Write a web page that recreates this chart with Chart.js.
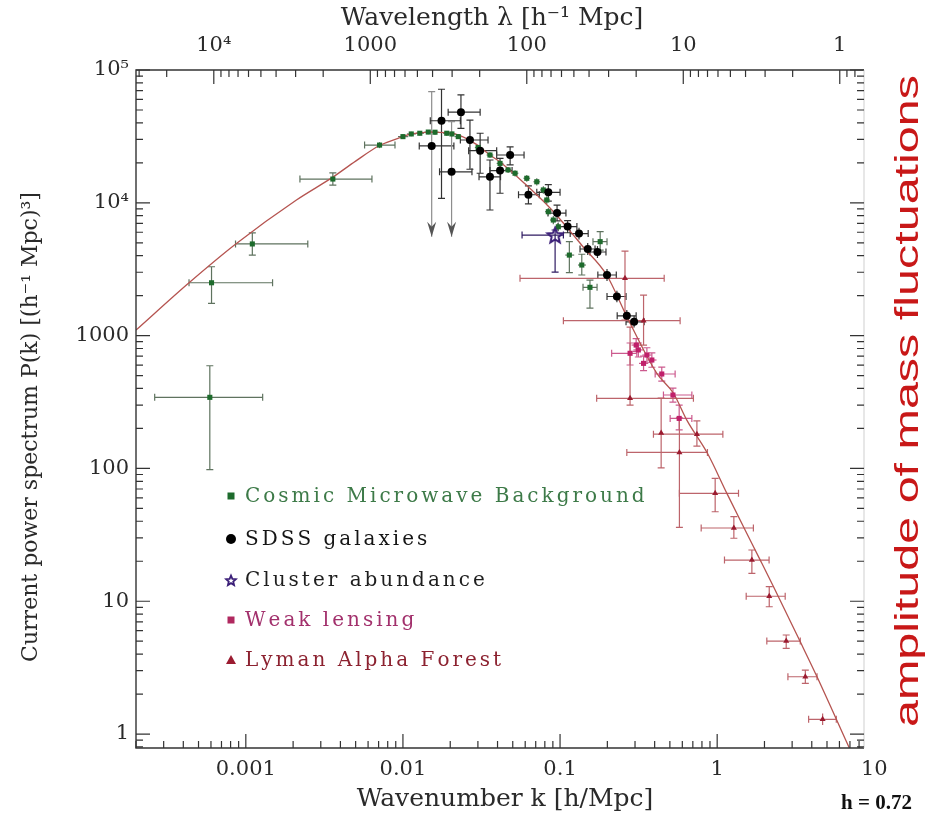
<!DOCTYPE html>
<html>
<head>
<meta charset="utf-8">
<script src="https://cdn.jsdelivr.net/npm/chart.js@4.4.1/dist/chart.umd.min.js"></script>
<style>
  html, body { margin: 0; padding: 0; background: #fff; }
  #wrap { position: relative; width: 932px; height: 818px; }
</style>
</head>
<body>
<div id="wrap"><canvas id="pk"></canvas></div>
<script>
// values: k in h/Mpc, P(k) in (h^-1 Mpc)^3
const kMin = 2.0e-4, kMax = 8.6, pMin = 0.785, pMax = 1e5;
const kTicks = [0.001, 0.01, 0.1, 1, 10];
const kTickLabels = ['0.001', '0.01', '0.1', '1', '10'];
const lambdaTicks = [1, 10, 100, 1000, 10000];
const lambdaTickLabels = ['1', '10', '100', '1000', '10\u2074'];
const pTicks = [1, 10, 100, 1000, 10000, 100000];
const pTickLabels = ['1', '10', '100', '1000', '10\u2074', '10\u2075'];

// theory curve
const curveK = [2.0e-4, 4.35e-4, 8.63e-4, 2.10e-3, 3.58e-3, 5.0e-3, 7.1e-3, 0.0100, 0.0113, 0.0153, 0.0214, 0.0288, 0.0358, 0.0415, 0.0598, 0.0863, 0.1076, 0.140, 0.198, 0.266, 0.413, 0.527, 0.641, 0.867, 1.153, 1.47, 1.88, 2.28, 3.38, 4.32, 5.64, 7.03];
const curveP = [1100, 2500, 4900, 10500, 15600, 20600, 27000, 31500, 33000, 34100, 33000, 27900, 22900, 20300, 13900, 9140, 6800, 4670, 2860, 1390, 520, 368, 231, 130, 64.9, 36.4, 20.4, 12.9, 4.95, 2.70, 1.35, 0.758];

// Cosmic Microwave Background
const cmbK   = [5.9e-4, 6.05e-4, 1.10e-3, 3.58e-3, 7.1e-3, 0.0100, 0.0113, 0.0128, 0.0145, 0.0160, 0.0190, 0.0205, 0.0225, 0.0267, 0.0301, 0.0358, 0.0415, 0.0467, 0.0517, 0.0614, 0.0711, 0.0783, 0.0823, 0.0842, 0.0906, 0.0975, 0.1146, 0.1375, 0.155, 0.180];
const cmbP   = [343, 2500, 4900, 15100, 27200, 31500, 33000, 33400, 34100, 34000, 33400, 33000, 31500, 29700, 26100, 22900, 19800, 17700, 16700, 15300, 14400, 12500, 10500, 8570, 7420, 6600, 4040, 3400, 2310, 5100];
const cmbKlo = [2.63e-4, 4.35e-4, 8.6e-4, 2.21e-3, 5.7e-3, 0.0093, 0.0106, 0.0121, 0.0137, 0.0152, 0.0180, 0.0195, 0.0213, 0.0254, 0.0287, 0.0341, 0.0395, 0.0445, 0.0492, 0.0585, 0.0677, 0.0746, 0.0784, 0.0802, 0.0863, 0.0929, 0.108, 0.130, 0.140, 0.162];
const cmbKhi = [1.28e-3, 1.48e-3, 2.48e-3, 6.35e-3, 8.9e-3, 0.0108, 0.0121, 0.0136, 0.0153, 0.0169, 0.0200, 0.0216, 0.0237, 0.0281, 0.0316, 0.0376, 0.0436, 0.0490, 0.0543, 0.0645, 0.0747, 0.0822, 0.0864, 0.0884, 0.0951, 0.102, 0.123, 0.146, 0.172, 0.199];
const cmbPlo = [98, 1750, 4040, 13600, 25800, 30200, 31700, 32100, 32800, 32600, 32000, 31600, 30200, 28400, 24900, 21800, 18800, 16800, 15800, 14400, 13500, 11700, 9800, 8000, 6900, 6100, 2980, 2860, 1610, 4410];
const cmbPhi = [593, 3300, 5930, 16800, 28600, 32800, 34300, 34800, 35400, 35400, 34800, 34400, 32800, 31000, 27300, 24000, 20800, 18600, 17600, 16200, 15300, 13300, 11200, 9150, 7950, 7100, 5100, 4100, 2620, 6060];

// SDSS galaxies (first and fourth are upper limits drawn as arrows)
const sdssK   = [0.01524, 0.0176, 0.0234, 0.0204, 0.0267, 0.0310, 0.0358, 0.0415, 0.0481, 0.0629, 0.0842, 0.0957, 0.1117, 0.132, 0.150, 0.173, 0.199, 0.230, 0.266, 0.296];
const sdssP   = [26800, 41500, 48100, 17100, 29700, 24700, 15700, 17500, 22900, 11500, 12000, 8370, 6620, 5870, 4490, 4260, 2860, 1970, 1410, 1270];
const sdssKlo = [0.0127, 0.01493, 0.0194, 0.0171, 0.0232, 0.0262, 0.0305, 0.0358, 0.0395, 0.0544, 0.0711, 0.0838, 0.0971, 0.116, 0.134, 0.155, 0.174, 0.199, 0.231, 0.263];
const sdssKhi = [0.0211, 0.0232, 0.0310, 0.0275, 0.0348, 0.0395, 0.0418, 0.0495, 0.0590, 0.0738, 0.100, 0.109, 0.128, 0.151, 0.167, 0.196, 0.228, 0.263, 0.305, 0.343];
const sdssPlo = [5560, 10800, 36400, 5560, 17900, 16700, 8830, 11800, 19300, 9800, 10300, 7300, 5950, 5300, 4050, 3840, 2580, 1780, 1270, 1150];
const sdssPhi = [68700, 71600, 64900, 40800, 42000, 33400, 21000, 21600, 26400, 13400, 13700, 9600, 7350, 6500, 4980, 4720, 3170, 2180, 1560, 1410];
const sdssArrow = [true, false, false, true, false, false, false, false, false, false, false, false, false, false, false, false, false, false, false, false];

// Cluster abundance
const clusterK = [0.093], clusterP = [5720];
const clusterKlo = [0.0573], clusterKhi = [0.105];
const clusterPlo = [3010], clusterPhi = [6240];

// Weak lensing
const wlK   = [0.279, 0.305, 0.315, 0.340, 0.357, 0.384, 0.444, 0.523, 0.573];
const wlP   = [736, 849, 780, 618, 714, 655, 514, 357, 238];
const wlKlo = [0.213, 0.285, 0.293, 0.318, 0.334, 0.359, 0.403, 0.455, 0.502];
const wlKhi = [0.308, 0.326, 0.338, 0.364, 0.382, 0.411, 0.540, 0.690, 0.690];
const wlPlo = [601, 760, 690, 545, 630, 578, 455, 316, 195];
const wlPhi = [880, 950, 880, 700, 810, 742, 580, 403, 300];

// Lyman alpha forest
const lyaK   = [0.259, 0.340, 0.279, 0.440, 0.743, 0.575, 0.971, 1.277, 1.663, 2.145, 2.75, 3.64, 4.69];
const lyaP   = [2700, 1295, 337, 185, 181, 132, 64.9, 35.6, 20.4, 10.9, 5.01, 2.70, 1.29];
const lyaKlo = [0.0556, 0.105, 0.171, 0.440, 0.393, 0.266, 0.575, 0.791, 1.113, 1.53, 2.07, 2.82, 3.82];
const lyaKhi = [0.460, 0.581, 0.706, 0.440, 1.087, 0.867, 1.367, 1.70, 2.14, 2.71, 3.38, 4.32, 5.73];
const lyaPlo = [1310, 849, 300, 101, 147, 36, 47.2, 29.8, 16.2, 9.09, 4.42, 2.41, 1.17];
const lyaPhi = [4330, 2020, 1160, 339, 228, 240, 84.2, 43.3, 24.3, 12.9, 5.57, 3.03, 1.43];

const serif = "'DejaVu Serif', serif";
const textCol = '#2a2a2a';

function pts(ks, ps) { return ks.map((k, i) => ({ x: k, y: ps[i] })); }

function starMarker(size, color, lw) {
  const c = document.createElement('canvas');
  c.width = c.height = size;
  const g = c.getContext('2d');
  const r = size / 2 - lw, ri = r * 0.45, cx = size / 2, cy = size / 2 + 0.8;
  g.beginPath();
  for (let i = 0; i < 10; i++) {
    const a = -Math.PI / 2 + i * Math.PI / 5;
    const rr = i % 2 ? ri : r;
    g.lineTo(cx + rr * Math.cos(a), cy + rr * Math.sin(a));
  }
  g.closePath();
  g.strokeStyle = color;
  g.lineWidth = lw;
  g.stroke();
  return c;
}
const starBig = starMarker(20, '#3b1f78', 2);
const starSmall = starMarker(14, '#3b1f78', 1.8);

// error bars (and the two downward arrows) under the markers
const errorBars = {
  id: 'errorBars',
  beforeDatasetsDraw(chart) {
    const { ctx, chartArea: a, scales: { x, y } } = chart;
    ctx.save();
    ctx.beginPath();
    ctx.rect(a.left, a.top, a.right - a.left, a.bottom - a.top);
    ctx.clip();
    ctx.lineWidth = 1.2;
    const cap = 3.5;
    chart.data.datasets.forEach(ds => {
      const e = ds.errors;
      if (!e) return;
      ds.data.forEach((p, i) => {
        const px = x.getPixelForValue(p.x), py = y.getPixelForValue(p.y);
        const xl = x.getPixelForValue(e.kLo[i]), xh = x.getPixelForValue(e.kHi[i]);
        const yl = y.getPixelForValue(e.pLo[i]), yh = y.getPixelForValue(e.pHi[i]);
        const arrow = e.arrow && e.arrow[i];
        ctx.strokeStyle = e.color;
        ctx.beginPath();
        if (xh - xl > 1) {
          ctx.moveTo(xl, py); ctx.lineTo(xh, py);
          if (xh - xl > 12) {
            ctx.moveTo(xl, py - cap); ctx.lineTo(xl, py + cap);
            ctx.moveTo(xh, py - cap); ctx.lineTo(xh, py + cap);
          }
        }
        ctx.stroke();
        ctx.strokeStyle = arrow ? '#8d8d8d' : e.color;
        ctx.beginPath();
        ctx.moveTo(px, yh); ctx.lineTo(px, yl);
        if (yl - yh > 12) {
          ctx.moveTo(px - cap, yh); ctx.lineTo(px + cap, yh);
          if (!arrow) { ctx.moveTo(px - cap, yl); ctx.lineTo(px + cap, yl); }
        }
        ctx.stroke();
        if (arrow) {
          ctx.fillStyle = '#555';
          ctx.beginPath();
          ctx.moveTo(px, yl);
          ctx.lineTo(px - 4.5, yl - 15);
          ctx.lineTo(px, yl - 10);
          ctx.lineTo(px + 4.5, yl - 15);
          ctx.closePath();
          ctx.fill();
        }
      });
    });
    ctx.restore();
  }
};

function logTicks(min, max) {
  const out = [];
  for (let e = Math.floor(Math.log10(min)); e <= Math.ceil(Math.log10(max)); e++) {
    for (let m = 1; m <= 9; m++) {
      const v = m * Math.pow(10, e);
      if (v >= min * 0.999 && v <= max * 1.001) out.push([v, m === 1]);
    }
  }
  return out;
}

function spaced(ctx, str, x, y, gap) {
  for (const ch of str) {
    ctx.fillText(ch, x, y);
    x += ctx.measureText(ch).width + gap;
  }
}

const legendRows = [
  { label: 'Cosmic Microwave Background', color: '#3d7a48', y: 496, mark: 'rect', mc: '#1d6b2c' },
  { label: 'SDSS galaxies', color: '#151515', y: 539, mark: 'circle', mc: '#000' },
  { label: 'Cluster abundance', color: '#1e1e1e', y: 580, mark: 'star', mc: '#3b1f78' },
  { label: 'Weak lensing', color: '#a2306c', y: 620, mark: 'rect', mc: '#b0285f' },
  { label: 'Lyman Alpha Forest', color: '#8c2230', y: 660, mark: 'triangle', mc: '#9b1b30' }
];

// frame, inward tick marks, titles, legend and side notes
const decor = {
  id: 'decor',
  afterDraw(chart) {
    const { ctx, chartArea: a, scales: { x, x2, y } } = chart;
    ctx.save();
    ctx.strokeStyle = '#333';
    ctx.lineWidth = 1.4;
    ctx.beginPath();
    ctx.moveTo(a.right, a.top); ctx.lineTo(a.left, a.top);
    ctx.lineTo(a.left, a.bottom); ctx.lineTo(a.right, a.bottom);
    ctx.stroke();
    ctx.strokeStyle = '#cfcfcf';
    ctx.lineWidth = 1;
    ctx.beginPath(); ctx.moveTo(a.right, a.top); ctx.lineTo(a.right, a.bottom); ctx.stroke();

    ctx.strokeStyle = '#333';
    ctx.lineWidth = 1.2;
    ctx.beginPath();
    logTicks(kMin, kMax).forEach(([v, major]) => {
      const px = x.getPixelForValue(v), len = major ? 14 : 7;
      ctx.moveTo(px, a.bottom); ctx.lineTo(px, a.bottom - len);
    });
    logTicks(2 * Math.PI / kMax, 2 * Math.PI / kMin).forEach(([v, major]) => {
      const px = x2.getPixelForValue(v), len = major ? 14 : 7;
      ctx.moveTo(px, a.top); ctx.lineTo(px, a.top + len);
    });
    logTicks(pMin, pMax).forEach(([v, major]) => {
      const py = y.getPixelForValue(v), len = major ? 14 : 7;
      ctx.moveTo(a.left, py); ctx.lineTo(a.left + len, py);
      ctx.moveTo(a.right, py); ctx.lineTo(a.right - len, py);
    });
    ctx.stroke();

    // axis titles
    ctx.fillStyle = textCol;
    ctx.textBaseline = 'middle';
    ctx.textAlign = 'center';
    ctx.font = '25px ' + serif;
    ctx.fillText('Wavelength \u03bb [h\u207b\u00b9 Mpc]', 492, 18);
    ctx.fillText('Wavenumber k [h/Mpc]', 505, 799);
    ctx.save();
    ctx.translate(31, 427);
    ctx.rotate(-Math.PI / 2);
    ctx.font = '22px ' + serif;
    ctx.fillText('Current power spectrum P(k) [(h\u207b\u00b9 Mpc)\u00b3]', 0, 0);
    ctx.restore();

    // legend
    ctx.textAlign = 'left';
    ctx.font = '20px ' + serif;
    legendRows.forEach(r => {
      const mx = 231, my = r.y;
      ctx.fillStyle = r.mc;
      if (r.mark === 'rect') ctx.fillRect(mx - 3.5, my - 3.5, 7, 7);
      else if (r.mark === 'circle') { ctx.beginPath(); ctx.arc(mx, my, 5, 0, 2 * Math.PI); ctx.fill(); }
      else if (r.mark === 'triangle') {
        ctx.beginPath(); ctx.moveTo(mx, my - 5); ctx.lineTo(mx + 5, my + 4); ctx.lineTo(mx - 5, my + 4); ctx.closePath(); ctx.fill();
      } else ctx.drawImage(starSmall, mx - 7, my - 7);
      ctx.fillStyle = r.color;
      spaced(ctx, r.label, 245, my + 1, 3);
    });

    // right-hand note
    ctx.save();
    ctx.fillStyle = '#c81818';
    ctx.font = '33px "Liberation Sans", Arial, sans-serif';
    const note = 'amplitude of mass fluctuations';
    const w = ctx.measureText(note).width;
    ctx.translate(918, 727);
    ctx.rotate(-Math.PI / 2);
    ctx.scale(652 / w, 1);
    ctx.textBaseline = 'alphabetic';
    ctx.fillText(note, 0, 0);
    ctx.restore();

    ctx.fillStyle = '#111';
    ctx.font = 'bold 21px "Liberation Serif", serif';
    ctx.textBaseline = 'alphabetic';
    ctx.fillText('h = 0.72', 841, 809);
    ctx.restore();
  }
};

const tickFont = { family: serif, size: 21 };

new Chart(document.getElementById('pk'), {
  type: 'scatter',
  data: {
    datasets: [
      {
        label: 'SDSS galaxies', data: pts(sdssK, sdssP),
        pointStyle: 'circle', pointRadius: 4, backgroundColor: '#000', borderColor: '#000', borderWidth: 0,
        errors: { kLo: sdssKlo, kHi: sdssKhi, pLo: sdssPlo, pHi: sdssPhi, arrow: sdssArrow, color: '#333' }
      },
      {
        label: 'Cluster abundance', data: pts(clusterK, clusterP),
        pointStyle: starBig, pointRadius: 10,
        errors: { kLo: clusterKlo, kHi: clusterKhi, pLo: clusterPlo, pHi: clusterPhi, color: '#2f1b62' }
      },
      {
        label: 'Cosmic Microwave Background', data: pts(cmbK, cmbP),
        pointStyle: 'rect', pointRadius: 3.6, backgroundColor: '#1d6b2c', borderColor: '#1d6b2c', borderWidth: 0,
        errors: { kLo: cmbKlo, kHi: cmbKhi, pLo: cmbPlo, pHi: cmbPhi, color: '#5f735f' }
      },
      {
        label: 'Weak lensing', data: pts(wlK, wlP),
        pointStyle: 'rect', pointRadius: 3.6, backgroundColor: '#c0206a', borderColor: '#c0206a', borderWidth: 0,
        errors: { kLo: wlKlo, kHi: wlKhi, pLo: wlPlo, pHi: wlPhi, color: '#cc5a8e' }
      },
      {
        label: 'Lyman Alpha Forest', data: pts(lyaK, lyaP),
        pointStyle: 'triangle', pointRadius: 3.5, backgroundColor: '#9b1b30', borderColor: '#9b1b30', borderWidth: 0,
        errors: { kLo: lyaKlo, kHi: lyaKhi, pLo: lyaPlo, pHi: lyaPhi, color: '#bd646b' }
      },
      {
        type: 'line', label: 'theory', data: pts(curveK, curveP),
        borderColor: '#b55450', borderWidth: 1.3, pointRadius: 0, fill: false,
        cubicInterpolationMode: 'monotone'
      }
    ]
  },
  options: {
    responsive: true,
    maintainAspectRatio: false,
    animation: false,
    layout: { padding: { left: 0, right: 68, top: 0, bottom: 0 } },
    plugins: { legend: { display: false }, tooltip: { enabled: false } },
    scales: {
      x: {
        type: 'logarithmic', position: 'bottom', min: kMin, max: kMax,
        grid: { display: false, drawTicks: false }, border: { display: false },
        afterBuildTicks: s => { s.ticks = kTicks.map(v => ({ value: v })); },
        afterFit: s => { s.height = 70; },
        ticks: {
          font: tickFont, color: textCol, padding: 9, maxRotation: 0, autoSkip: false,
          callback: (v, i) => kTickLabels[i]
        }
      },
      x2: {
        type: 'logarithmic', position: 'top', reverse: true,
        min: 2 * Math.PI / kMax, max: 2 * Math.PI / kMin,
        grid: { display: false, drawTicks: false }, border: { display: false },
        afterBuildTicks: s => { s.ticks = lambdaTicks.map(v => ({ value: v })); },
        afterFit: s => { s.height = 70; },
        ticks: {
          font: tickFont, color: textCol, padding: 12, maxRotation: 0, autoSkip: false,
          callback: (v, i) => lambdaTickLabels[i]
        }
      },
      y: {
        type: 'logarithmic', position: 'left', min: pMin, max: pMax,
        grid: { display: false, drawTicks: false }, border: { display: false },
        afterBuildTicks: s => { s.ticks = pTicks.map(v => ({ value: v })); },
        afterFit: s => { s.width = 136; },
        ticks: {
          font: tickFont, color: textCol, padding: 7, autoSkip: false,
          callback: (v, i) => pTickLabels[i]
        }
      }
    }
  },
  plugins: [errorBars, decor]
});
</script>
</body>
</html>
